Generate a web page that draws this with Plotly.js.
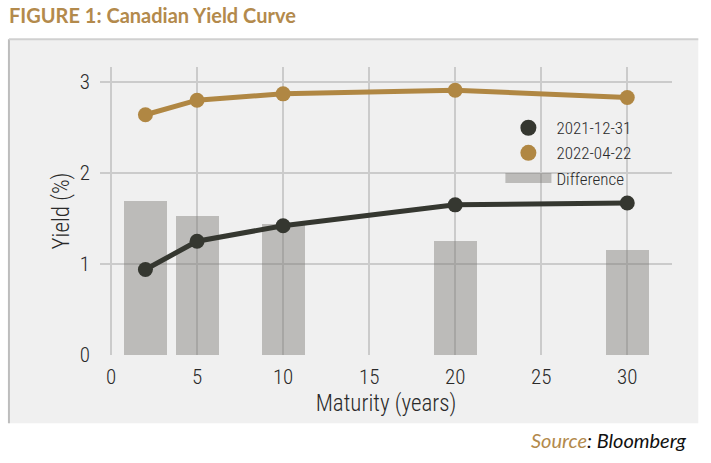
<!DOCTYPE html>
<html>
<head>
<meta charset="utf-8">
<script src="https://cdn.plot.ly/plotly-3.0.1.min.js"></script>
<style>html,body{margin:0;padding:0;background:#fff;}#chart{width:711px;height:463px;}</style>
</head>
<body>
<div id="chart"></div>
<script>
// Data
var maturities = [2, 5, 10, 20, 30];
var yield20211231 = [0.94, 1.25, 1.42, 1.65, 1.67];
var yield20220422 = [2.64, 2.80, 2.87, 2.91, 2.83];
var difference = [1.69, 1.53, 1.44, 1.25, 1.15];
var seriesNames = ['2021-12-31', '2022-04-22', 'Difference'];
var xTicks = [0, 5, 10, 15, 20, 25, 30];
var yTicks = [0, 1, 2, 3];

var FONT = 'Roboto Condensed, Liberation Sans Narrow, DejaVu Sans Condensed, sans-serif';
var DARK = '#353730';
var GOLD = '#b08743';
var BARC = 'rgba(120,118,114,0.44)';

var traces = [
  {type: 'bar', x: maturities, y: difference, width: 2.5, name: seriesNames[2],
   marker: {color: BARC, line: {width: 0}}, showlegend: false},
  {type: 'scatter', mode: 'lines+markers', x: maturities, y: yield20211231, name: seriesNames[0],
   line: {color: DARK, width: 5}, marker: {color: DARK, size: 15}, showlegend: false},
  {type: 'scatter', mode: 'lines+markers', x: maturities, y: yield20220422, name: seriesNames[1],
   line: {color: GOLD, width: 5}, marker: {color: GOLD, size: 15}, showlegend: false},
  // legend entries
  {type: 'scatter', mode: 'markers', x: [null], y: [null], name: seriesNames[0],
   marker: {color: DARK, size: 16}},
  {type: 'scatter', mode: 'markers', x: [null], y: [null], name: seriesNames[1],
   marker: {color: GOLD, size: 16}},
  {type: 'scatter', mode: 'lines', x: [null], y: [null], name: seriesNames[2],
   line: {color: BARC, width: 12}}
];

var layout = {
  width: 711, height: 463,
  margin: {l: 100, r: 39, t: 67, b: 108, pad: 0},
  paper_bgcolor: '#ffffff',
  plot_bgcolor: 'rgba(0,0,0,0)',
  font: {family: FONT, color: '#2a2a2a', size: 20, weight: 300},
  showlegend: true,
  legend: {x: 0.70, y: 0.85, xanchor: 'left', yanchor: 'top', bgcolor: 'rgba(0,0,0,0)',
           font: {family: FONT, size: 17, color: '#2a2a2a', weight: 300}, itemwidth: 46, tracegroupgap: 0},
  xaxis: {range: [-0.64, 32.6], tickvals: xTicks, ticktext: xTicks.map(String), showgrid: true,
          gridcolor: '#cbcbcb', gridwidth: 2, zeroline: false, showline: false, ticks: '',
          ticklabelstandoff: 7, tickfont: {size: 21, family: FONT, color: '#2a2a2a', weight: 300},
          title: {text: 'Maturity (years)', font: {size: 23, family: FONT, color: '#2a2a2a', weight: 300}, standoff: 6}},
  yaxis: {range: [0, 3.165], tickvals: yTicks, ticktext: yTicks.map(String), showgrid: true,
          gridcolor: '#cbcbcb', gridwidth: 2, zeroline: false, showline: false, ticks: '',
          ticklabelstandoff: 9, tickfont: {size: 21, family: FONT, color: '#2a2a2a', weight: 300},
          title: {text: 'Yield (%)', font: {size: 23, family: FONT, color: '#2a2a2a', weight: 300}, standoff: 3}},
  bargap: 0,
  shapes: [
    {type: 'rect', xref: 'paper', yref: 'paper', x0: -0.1592, x1: 1.046, y0: -0.237, y1: 1.096,
     fillcolor: '#f0f0f0', line: {width: 0}, layer: 'below'},
    {type: 'line', xref: 'paper', yref: 'paper', x0: -0.1592, x1: -0.1592, y0: -0.237, y1: 1.096,
     line: {color: '#bdbdbd', width: 2}, layer: 'below'},
    {type: 'line', xref: 'paper', yref: 'paper', x0: -0.1592, x1: 1.046, y0: 1.096, y1: 1.096,
     line: {color: '#d0d0d0', width: 2}, layer: 'below'}
  ],
  annotations: [
    {xref: 'paper', yref: 'paper', x: -0.162, y: 1.18, xanchor: 'left', yanchor: 'middle', showarrow: false,
     text: '<b>FIGURE 1: Canadian Yield Curve</b>', font: {family: 'Lato, Open Sans, sans-serif', size: 20, color: '#b38a4c', weight: 400}},
    {xref: 'paper', yref: 'paper', x: 1.0285, y: -0.296, xanchor: 'right', yanchor: 'middle', showarrow: false,
     text: '<i><span style="color:#b38a4c">Source</span>: Bloomberg</i>', font: {family: 'Lato, Open Sans, sans-serif', size: 20, color: '#111', weight: 400}}
  ]
};

Plotly.newPlot('chart', traces, layout, {displayModeBar: false, staticPlot: true});
</script>
</body>
</html>
